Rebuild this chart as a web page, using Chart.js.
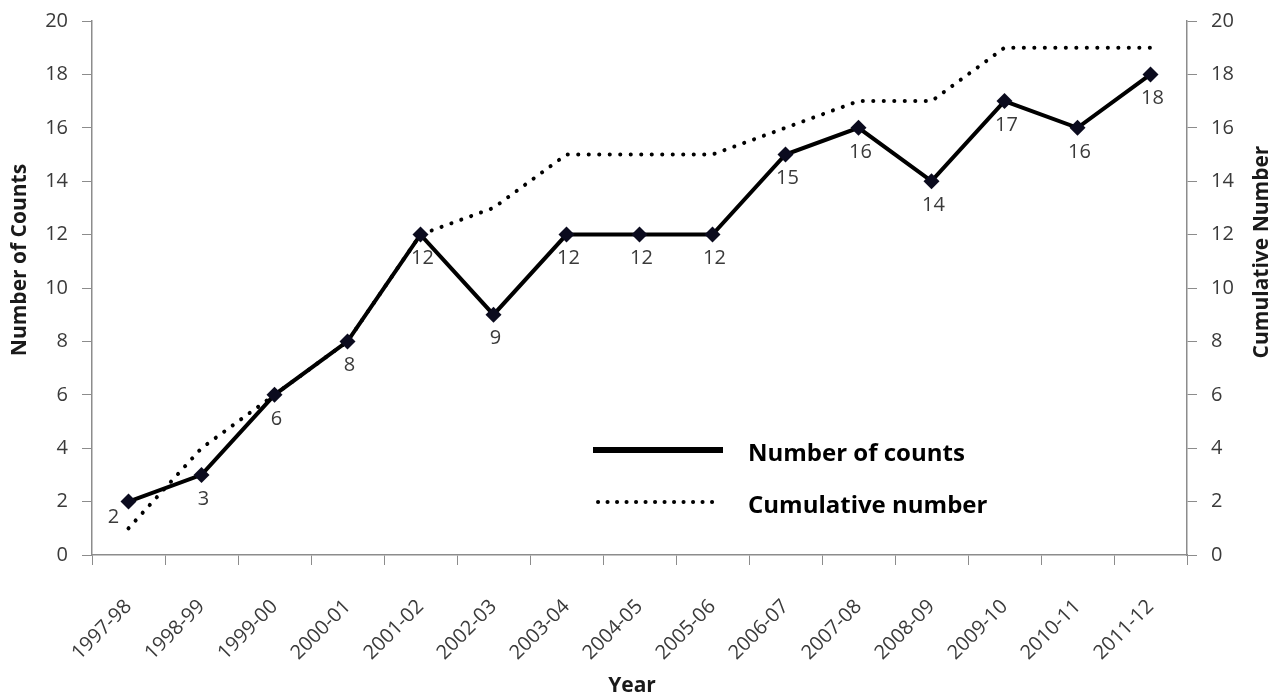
<!DOCTYPE html>
<html lang="en">
<head>
<meta charset="UTF-8">
<title>Number of Counts by Year</title>
<script src="https://cdn.jsdelivr.net/npm/chart.js@4.4.0/dist/chart.umd.min.js"></script>
<style>
  html, body { margin: 0; padding: 0; background: #fff; }
  #wrap { width: 1274px; height: 697px; }
</style>
</head>
<body>
<div id="wrap"><canvas id="countChart" width="1274" height="697"></canvas></div>
<script>
// years and values
var years = ['1997-98', '1998-99', '1999-00', '2000-01', '2001-02', '2002-03', '2003-04',
             '2004-05', '2005-06', '2006-07', '2007-08', '2008-09', '2009-10', '2010-11', '2011-12'];
var counts = [2, 3, 6, 8, 12, 9, 12, 12, 12, 15, 16, 14, 17, 16, 18];
var cumulative = [1, 4, 6, 8, 12, 13, 15, 15, 15, 16, 17, 17, 19, 19, 19];
var legendLabels = ['Number of counts', 'Cumulative number'];
var axisTitles = { x: 'Year', y: 'Number of Counts', y1: 'Cumulative Number' };

var axisGray = '#8c8c8c';
var textGray = '#3a3a3a';
var tickFont = { family: 'Open Sans', size: 20 };

// value labels under the solid line markers
var pointLabels = {
    id: 'pointLabels',
    afterDatasetsDraw: function(chart) {
        var ctx = chart.ctx;
        var meta = chart.getDatasetMeta(0);
        ctx.save();
        ctx.font = '20px "Open Sans"';
        ctx.fillStyle = textGray;
        ctx.textAlign = 'center';
        ctx.textBaseline = 'middle';
        meta.data.forEach(function(pt, i) {
            if (i === 0) {
                ctx.fillText(String(counts[i]), pt.x - 15, pt.y + 16);
            } else {
                ctx.fillText(String(counts[i]), pt.x + 2, pt.y + 24);
            }
        });
        ctx.restore();
    }
};

// axis titles and the legend inside the plot area
var chartText = {
    id: 'chartText',
    afterDraw: function(chart) {
        var ctx = chart.ctx;
        ctx.save();
        ctx.fillStyle = '#1a1a1a';
        ctx.font = 'bold 21px "Open Sans"';
        ctx.textAlign = 'center';
        ctx.textBaseline = 'middle';
        ctx.fillText(axisTitles.x, 632, 686);

        ctx.save();
        ctx.translate(20, 260);
        ctx.rotate(-Math.PI / 2);
        ctx.fillText(axisTitles.y, 0, 0);
        ctx.restore();

        ctx.save();
        ctx.translate(1262, 252);
        ctx.rotate(-Math.PI / 2);
        ctx.fillText(axisTitles.y1, 0, 0);
        ctx.restore();

        // legend samples
        ctx.strokeStyle = '#000';
        ctx.lineWidth = 6;
        ctx.beginPath();
        ctx.moveTo(593, 450);
        ctx.lineTo(723, 450);
        ctx.stroke();
        ctx.lineWidth = 4;
        ctx.lineCap = 'round';
        ctx.setLineDash([0.1, 9.4]);
        ctx.beginPath();
        ctx.moveTo(598, 502);
        ctx.lineTo(720, 502);
        ctx.stroke();
        ctx.setLineDash([]);

        ctx.fillStyle = '#000';
        ctx.font = 'bold 24px "Open Sans"';
        ctx.textAlign = 'left';
        ctx.textBaseline = 'alphabetic';
        ctx.fillText(legendLabels[0], 748, 461);
        ctx.fillText(legendLabels[1], 748, 513);
        ctx.restore();
    }
};

// fixed axis widths; top label overhang is covered by the layout padding
function fitVertical(width) {
    return function(scale) {
        scale.width = width;
        scale.paddingTop = 0;
        scale.paddingBottom = 0;
    };
}

var ctx = document.getElementById('countChart').getContext('2d');
var countChart = new Chart(ctx, {
    type: 'line',
    data: {
        labels: years,
        datasets: [{
            label: legendLabels[0],
            data: counts,
            yAxisID: 'y',
            borderColor: '#000',
            backgroundColor: '#0b0b1e',
            borderWidth: 4,
            pointStyle: 'rectRot',
            pointRadius: 8,
            pointBorderWidth: 0,
            tension: 0,
            order: 0
        }, {
            label: legendLabels[1],
            data: cumulative,
            yAxisID: 'y1',
            borderColor: '#000',
            borderWidth: 4,
            borderDash: [0.1, 10.4],
            borderCapStyle: 'round',
            pointRadius: 0,
            tension: 0,
            order: 1
        }]
    },
    options: {
        responsive: false,
        animation: false,
        layout: { padding: { top: 21, left: 0, right: 0, bottom: 0 } },
        plugins: {
            legend: { display: false },
            tooltip: { enabled: false }
        },
        scales: {
            x: {
                offset: true,
                grid: { offset: true, drawOnChartArea: false, color: axisGray, tickLength: 10 },
                border: { color: axisGray, width: 1.5 },
                ticks: { color: textGray, font: tickFont, minRotation: 45, maxRotation: 45, padding: 30 },
                afterFit: function(scale) { scale.height = 142; scale.paddingLeft = 0; scale.paddingRight = 0; }
            },
            y: {
                position: 'left',
                min: 0, max: 20,
                grid: { drawOnChartArea: false, color: axisGray, tickLength: 10 },
                border: { color: axisGray, width: 1.5 },
                ticks: { stepSize: 2, color: textGray, font: tickFont, padding: 14 },
                afterFit: fitVertical(92)
            },
            y1: {
                position: 'right',
                min: 0, max: 20,
                grid: { drawOnChartArea: false, color: axisGray, tickLength: 10 },
                border: { color: axisGray, width: 1.5 },
                ticks: { stepSize: 2, color: textGray, font: tickFont, padding: 14 },
                afterFit: fitVertical(87)
            }
        }
    },
    plugins: [pointLabels, chartText]
});
</script>
</body>
</html>
